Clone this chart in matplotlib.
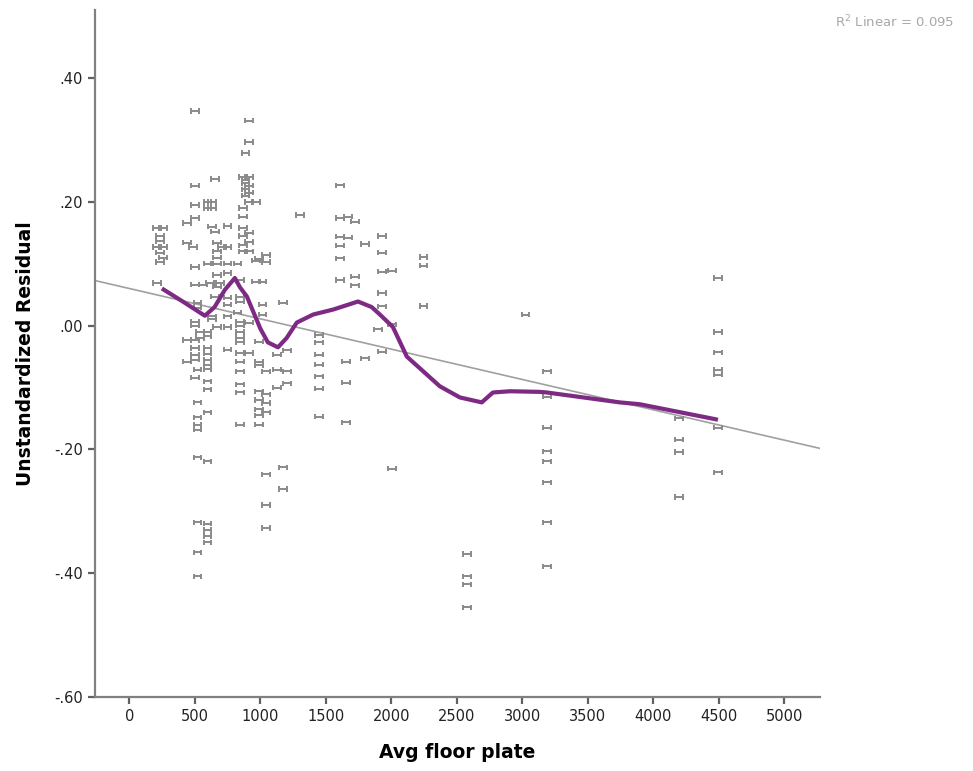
import numpy as np
import matplotlib
matplotlib.use("Agg")
import matplotlib.pyplot as plt
from matplotlib.path import Path
from matplotlib.ticker import FuncFormatter

# avg floor plate values (one per column of points) and the residuals at each
plate_x = [210, 233, 256, 439, 485, 500, 520, 538, 561, 595, 615, 630, 653,
           670, 691, 706, 748, 825, 844, 866, 885, 912, 965, 990, 1015, 1045,
           1126, 1172, 1202, 1300, 1447, 1607, 1653, 1668, 1722, 1798, 1897,
           1927, 2004, 2244, 2576, 3025, 3187, 4194, 4492]
resid_by_plate = [
    [0.158, 0.127, 0.069],
    [0.145, 0.137, 0.118, 0.103],
    [0.158, 0.127, 0.110],
    [0.166, 0.134, -0.023, -0.058],
    [0.127],
    [0.347, 0.226, 0.195, 0.174, 0.095, 0.066, 0.006, 0.0, -0.023, -0.036,
     -0.047, -0.055, -0.084],
    [0.037, 0.029, -0.071, -0.124, -0.148, -0.160, -0.168, -0.213, -0.318,
     -0.366, -0.405],
    [-0.010, -0.020],
    [0.066],
    [0.200, 0.190, 0.100, -0.010, -0.017, -0.036, -0.045, -0.055, -0.063,
     -0.070, -0.090, -0.103, -0.140, -0.219, -0.320, -0.330, -0.340, -0.350],
    [0.069],
    [0.200, 0.190, 0.160, 0.015, 0.010],
    [0.237, 0.152, 0.047],
    [0.134, 0.120, 0.110, 0.100, 0.082, 0.063, -0.002],
    [0.069],
    [0.127],
    [0.161, 0.127, 0.100, 0.085, 0.045, 0.034, 0.015, -0.002, -0.039],
    [0.100, 0.021],
    [0.074, 0.047, 0.039, 0.006, 0.0, -0.010, -0.020, -0.027, -0.044, -0.058,
     -0.074, -0.095, -0.108, -0.160],
    [0.240, 0.190, 0.176, 0.158, 0.145, 0.130, 0.120],
    [0.279, 0.235, 0.230, 0.220, 0.210],
    [0.331, 0.297, 0.240, 0.226, 0.215, 0.200, 0.150, 0.135, 0.120, 0.005,
     -0.044],
    [0.200, 0.105, 0.071],
    [0.108, -0.026, -0.058, -0.064, -0.106, -0.120, -0.135, -0.145, -0.160],
    [0.071, 0.034, 0.018],
    [0.114, 0.103, -0.074, -0.111, -0.125, -0.140, -0.240, -0.290, -0.327],
    [-0.047, -0.071, -0.100],
    [0.037, -0.229, -0.264],
    [-0.040, -0.074, -0.093],
    [0.179],
    [-0.015, -0.027, -0.047, -0.063, -0.082, -0.102, -0.147],
    [0.227, 0.174, 0.144, 0.129, 0.109, 0.074],
    [-0.058, -0.092, -0.156],
    [0.176, 0.142],
    [0.168, 0.079, 0.065],
    [0.132, -0.053],
    [-0.006],
    [0.145, 0.118, 0.087, 0.053, 0.031, -0.042],
    [0.089, 0.002, -0.231],
    [0.111, 0.097, 0.032],
    [-0.369, -0.405, -0.418, -0.455],
    [0.018],
    [-0.074, -0.115, -0.165, -0.203, -0.219, -0.253, -0.318, -0.389],
    [-0.150, -0.184, -0.204, -0.277],
    [0.077, -0.010, -0.043, -0.071, -0.079, -0.165, -0.237],
]

# loess fit line
loess_x = [248, 400, 576, 650, 729, 805, 844, 897, 1000, 1057, 1134, 1200,
           1278, 1403, 1555, 1745, 1850, 1912, 2011, 2118, 2370, 2523, 2690,
           2775, 2905, 3134, 3187, 3744, 3897, 4493]
loess_y = [0.060, 0.040, 0.016, 0.030, 0.058, 0.077, 0.062, 0.047, -0.005,
           -0.027, -0.035, -0.020, 0.005, 0.018, 0.026, 0.039, 0.030, 0.018,
           -0.002, -0.050, -0.098, -0.116, -0.124, -0.108, -0.106, -0.107,
           -0.108, -0.124, -0.127, -0.152]

fit_intercept = 0.060
fit_slope = -4.9e-5
r2_linear = 0.095

x = np.concatenate([[px] * len(r) for px, r in zip(plate_x, resid_by_plate)])
y = np.concatenate(resid_by_plate)

# small "|-|" shaped marker like the SPSS one
marker = Path(
    [(-1, -0.7), (-1, 0.7), (1, -0.7), (1, 0.7), (-1, 0), (1, 0)],
    [Path.MOVETO, Path.LINETO, Path.MOVETO, Path.LINETO, Path.MOVETO, Path.LINETO],
)

fig = plt.figure(figsize=(9.73, 7.71), dpi=100)
ax = fig.add_axes([0.0976, 0.096, 0.745, 0.891])

xlim = (-263, 5271)
ax.plot(xlim, [fit_intercept + fit_slope * v for v in xlim],
        color="#a0a0a0", lw=1.2, zorder=2)
ax.scatter(x, y, marker=marker, s=30, facecolors="none",
           edgecolors="#8a8a8a", linewidths=1.4, zorder=3)
ax.plot(loess_x, loess_y, color="#7e2a84", lw=3.0, zorder=4,
        solid_capstyle="butt")

ax.set_xlim(*xlim)
ax.set_ylim(-0.60, 0.51)
ax.set_xticks(np.arange(0, 5001, 500))
ax.set_yticks([-0.6, -0.4, -0.2, 0.0, 0.2, 0.4])


def fmt(v, pos):
    s = f"{v:.2f}"
    return s.replace("0.", ".", 1)


ax.yaxis.set_major_formatter(FuncFormatter(fmt))

for side in ["top", "right"]:
    ax.spines[side].set_visible(False)
for side in ["left", "bottom"]:
    ax.spines[side].set_color("#808080")
    ax.spines[side].set_linewidth(1.6)
ax.tick_params(direction="out", length=5, width=1.6, color="#606060",
               labelsize=10.5, labelcolor="#222222")

ax.set_xlabel("Avg floor plate", fontsize=13.5, fontweight="bold", labelpad=14)
ax.set_ylabel("Unstandardized Residual", fontsize=13.5, fontweight="bold",
              labelpad=14)

fig.text(0.92, 0.972, f"R$^2$ Linear = {r2_linear:.3f}", color="#a8a8a8",
         fontsize=9.5, ha="center", va="center")

fig.savefig("out.png", dpi=100)
